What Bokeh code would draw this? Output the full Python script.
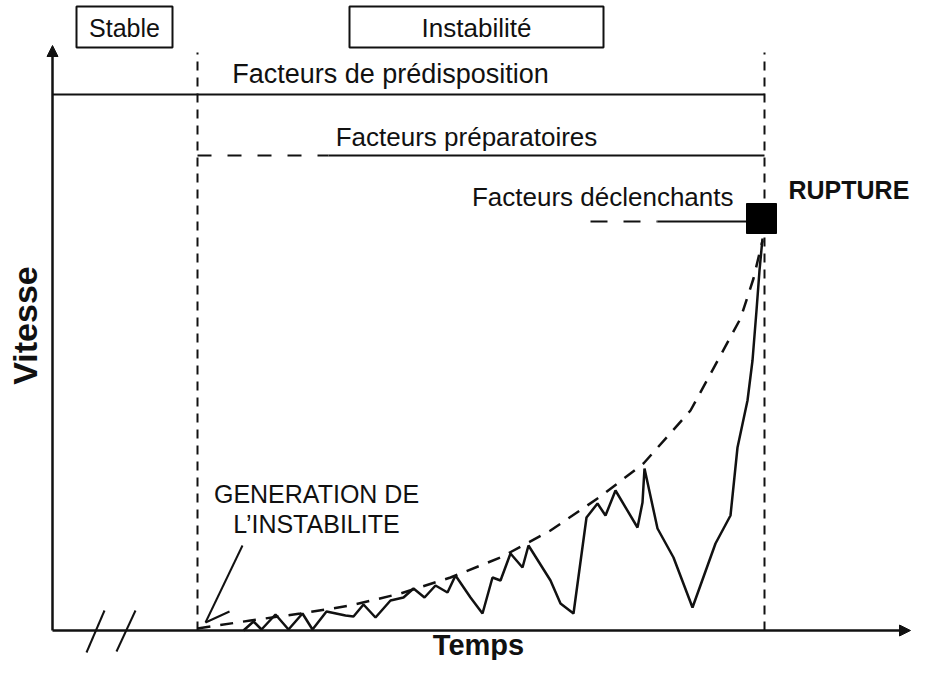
from bokeh.plotting import figure
from bokeh.models import Range1d, Arrow, NormalHead, Label
from bokeh.embed import file_html
from bokeh.resources import INLINE

# ---------------- data (time, speed) ----------------
# jagged observed speed during instability
speed_t = [191, 201, 209, 223, 236, 250, 260, 274, 293, 301, 311, 323, 338, 351,
           361, 372, 383, 395, 403, 418, 430, 440, 448, 458, 470, 476, 498, 508,
           521, 534, 545, 553, 563, 585, 590, 592, 605, 621, 640, 663, 678, 685,
           695, 700, 704, 707, 710]
speed_v = [0, 9, 1, 16, 1, 17, 1, 19, 15, 14, 26, 13, 30, 33,
           42, 33, 45, 38, 55, 33, 17, 53, 50, 77, 63, 85, 50, 27,
           17, 113, 127, 115, 140, 103, 128, 162, 102, 73, 23, 87, 115, 183,
           230, 270, 320, 360, 392]
# smooth envelope (dashed)
env_t = [145, 198, 248, 298, 348, 398, 448, 498, 548, 591, 638, 668, 688, 701, 710]
env_v = [2, 10, 17, 25, 37, 53, 73, 100, 134, 167, 220, 275, 312, 352, 390]
# rupture point
rupture_t = [709]
rupture_v = [412]
# phase limits (time)
t_onset = 145
t_rupture = 712
phase_labels = ["Stable", "Instabilité"]
factor_labels = ["Facteurs de prédisposition", "Facteurs préparatoires", "Facteurs déclenchants"]

FONT = "Liberation Sans"
INK = "#111111"

p = figure(width=912, height=660, x_range=Range1d(-52, 860), y_range=Range1d(-30, 630),
           output_backend="svg", toolbar_location=None, min_border=0,
           x_axis_type=None, y_axis_type=None)
p.xgrid.visible = False
p.ygrid.visible = False
p.outline_line_color = None
p.background_fill_color = "white"
p.border_fill_color = "white"

# axes with arrows
p.add_layout(Arrow(end=NormalHead(size=11, fill_color=INK, line_color=INK, line_width=1),
                   x_start=0, y_start=0, x_end=0, y_end=585, line_width=2.5, line_color=INK))
p.add_layout(Arrow(end=NormalHead(size=11, fill_color=INK, line_color=INK, line_width=1),
                   x_start=0, y_start=0, x_end=858, y_end=0, line_width=2.5, line_color=INK))
# axis break marks
p.segment(x0=[34, 64], y0=[-22, -21], x1=[52, 83], y1=[20, 20], line_width=2, line_color=INK)

# vertical phase limits
p.segment(x0=[t_onset, t_rupture], y0=[0, 0], x1=[t_onset, t_rupture], y1=[578, 578],
          line_width=2, line_color=INK, line_dash="9 7")

# factor lines
p.segment(x0=[0], y0=[536], x1=[t_rupture], y1=[536], line_width=2, line_color=INK)
p.segment(x0=[t_onset], y0=[475], x1=[276], y1=[475], line_width=2, line_color=INK, line_dash="14 16")
p.segment(x0=[276], y0=[475], x1=[t_rupture], y1=[475], line_width=2, line_color=INK)
p.segment(x0=[538], y0=[409], x1=[605], y1=[409], line_width=2, line_color=INK, line_dash="17 16")
p.segment(x0=[605], y0=[409], x1=[695], y1=[409], line_width=2, line_color=INK)

# envelope and observed speed
p.line(env_t, env_v, line_width=2.5, line_color=INK, line_dash="13 10")
p.line(speed_t, speed_v, line_width=2.5, line_color=INK)
p.scatter(rupture_t, rupture_v, marker="square", size=30, fill_color="black", line_color="black")

# generation arrow (half head)
p.segment(x0=[190, 153], y0=[85, 8], x1=[153, 177], y1=[8, 19], line_width=2, line_color=INK)

# phase boxes
p.quad(left=[24, 297], right=[120, 551], bottom=[583, 583], top=[624, 624],
       fill_color="white", line_color=INK, line_width=2)

def lab(x, y, text, size=25, align="center", bold=False, angle=0):
    p.add_layout(Label(x=x, y=y, text=text, text_font=FONT, text_font_size=f"{size}px",
                       text_align=align, text_baseline="middle", text_color=INK,
                       text_font_style="bold" if bold else "normal",
                       angle=angle, angle_units="deg"))

lab(72, 603, phase_labels[0])
lab(424, 603, phase_labels[1], size=26)
lab(338, 557, factor_labels[0], size=27)
lab(414, 494, factor_labels[1], size=26)
lab(681, 434, factor_labels[2], size=26, align="right")
lab(736, 441, "RUPTURE", size=25, align="left", bold=True)
lab(264, 137, "GENERATION DE")
lab(264, 107, "L\u2019INSTABILITE")
lab(426, -14, "Temps", size=29, bold=True)
lab(-28, 305, "Vitesse", size=34, bold=True, angle=90)

open("out.html", "w").write(file_html(p, INLINE))
